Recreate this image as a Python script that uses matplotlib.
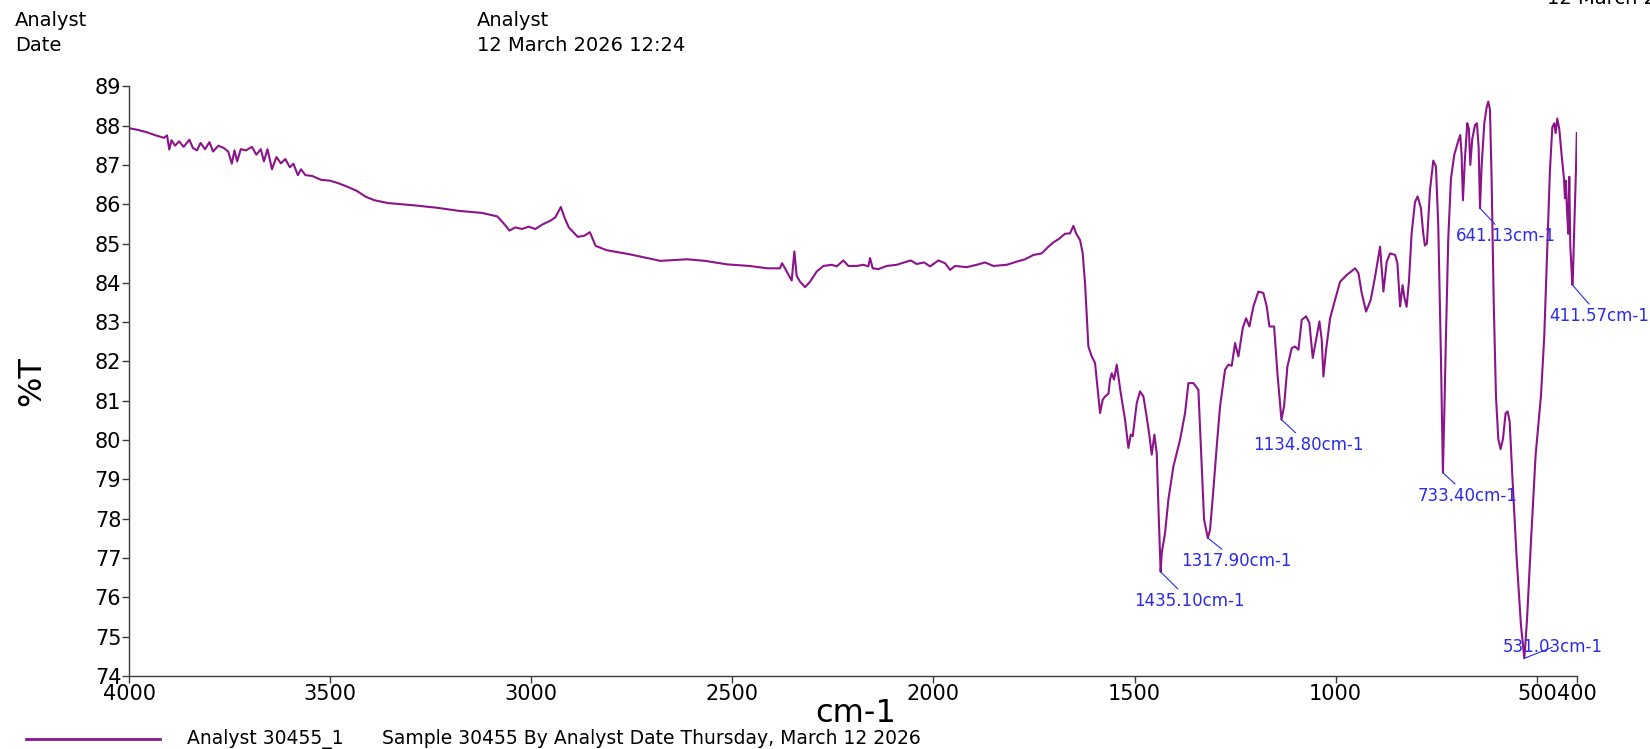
import numpy as np
import matplotlib.pyplot as plt
from matplotlib.lines import Line2D

plt.rcParams['font.family'] = ['DejaVu Sans']

# FTIR spectrum, wavenumber (cm-1) vs transmittance (%T)
wavenumber = [
    3997.5, 3977.5, 3955.3, 3933.1, 3913.1, 3905.4, 3899.8, 3894.3, 3885.4, 3875.4,
    3864.3, 3849.9, 3841.0, 3831.0, 3822.1, 3811.0, 3799.9, 3791.1, 3777.7, 3764.4,
    3753.3, 3744.4, 3737.8, 3731.1, 3722.2, 3708.9, 3694.5, 3683.4, 3672.3, 3664.5,
    3655.7, 3644.5, 3633.4, 3622.3, 3611.3, 3600.2, 3591.3, 3580.2, 3572.4, 3561.3,
    3544.7, 3522.4, 3500.3, 3478.1, 3455.9, 3433.7, 3411.5, 3389.3, 3356.0, 3289.4,
    3233.9, 3178.4, 3122.9, 3084.0, 3067.4, 3054.1, 3039.7, 3023.0, 3006.4, 2989.7,
    2973.1, 2950.9, 2939.8, 2926.4, 2917.6, 2906.5, 2884.3, 2867.6, 2854.3, 2839.9,
    2812.1, 2756.6, 2678.9, 2612.4, 2568.0, 2512.5, 2457.0, 2412.6,
    2381.4, 2376.4, 2369.0, 2358.0, 2352.4, 2345.8, 2340.0, 2331.7, 2319.2, 2306.8,
    2290.2, 2273.6, 2253.0, 2240.5, 2224.0, 2211.5, 2190.8, 2174.2, 2161.8, 2157.6,
    2151.0, 2136.9, 2116.2, 2091.3, 2056.5, 2041.6, 2023.3, 2008.4, 1987.7, 1971.1,
    1958.7, 1946.3, 1917.3, 1892.4, 1871.7, 1851.0, 1817.8, 1793.0, 1772.2, 1751.5,
    1730.8, 1714.2, 1701.8, 1689.3, 1672.8, 1660.4, 1652.0, 1645.4, 1635.5, 1628.9,
    1623.1, 1614.8, 1606.5, 1598.2, 1592.4, 1585.8, 1579.1, 1573.3, 1565.0, 1560.9,
    1556.8, 1551.0, 1544.3, 1534.4, 1523.6, 1515.3, 1509.5, 1504.5, 1494.6, 1486.3,
    1478.0, 1471.4, 1463.9, 1457.3, 1450.7, 1444.9, 1439.9, 1435.1, 1432.4, 1424.1,
    1415.9, 1403.4, 1386.9, 1374.4, 1366.1, 1353.7, 1341.3, 1333.0, 1327.2, 1317.9,
    1312.3, 1304.0, 1295.7, 1287.4, 1275.0, 1266.7, 1258.4, 1250.1, 1241.8, 1231.0,
    1222.8, 1214.5, 1204.5, 1192.1, 1179.7, 1171.4, 1164.7, 1153.1, 1144.8, 1134.8,
    1128.3, 1120.0, 1109.2, 1100.9, 1092.6, 1084.3, 1073.6, 1065.3, 1057.0, 1048.7,
    1040.4, 1034.6, 1030.4, 1023.8, 1013.9, 1001.5, 989.0, 972.5, 951.7, 943.4,
    935.2, 924.4, 912.8, 902.0, 889.6, 881.3, 873.0, 864.7, 852.3, 846.5,
    839.8, 833.6, 829.4, 823.6, 817.8, 811.2, 802.9, 796.3, 788.0, 782.2,
    778.1, 773.1, 765.6, 757.3, 750.7, 744.9, 738.3, 734.9, 733.4, 730.0,
    725.8, 720.0, 713.4, 705.1, 695.2, 690.2, 686.9, 683.6, 678.6, 672.8,
    668.7, 665.3, 660.4, 653.7, 648.8, 644.6, 641.13, 637.2, 630.5, 624.7,
    620.6, 616.4, 612.3, 607.3, 601.5, 595.7, 589.9, 584.1, 577.5, 572.5,
    567.5, 560.9, 550.1, 539.4, 531.03, 524.4, 514.5, 502.9, 489.6, 481.4,
    473.1, 467.3, 461.4, 456.5, 453.2, 449.0, 444.0, 438.3, 432.4, 429.9,
    427.5, 425.0, 421.7, 419.2, 416.7, 411.57, 410.1, 406.7, 402.6, 400.5,
]
transmittance = [
    87.93, 87.89, 87.83, 87.75, 87.69, 87.75, 87.39, 87.63, 87.49, 87.60,
    87.46, 87.64, 87.43, 87.37, 87.56, 87.40, 87.58, 87.34, 87.49, 87.43,
    87.34, 87.03, 87.37, 87.09, 87.40, 87.37, 87.46, 87.26, 87.40, 87.09,
    87.40, 86.89, 87.20, 87.04, 87.15, 86.94, 87.03, 86.74, 86.89, 86.74,
    86.72, 86.62, 86.60, 86.53, 86.44, 86.34, 86.19, 86.10, 86.03, 85.97,
    85.91, 85.83, 85.78, 85.69, 85.50, 85.33, 85.41, 85.37, 85.43, 85.37,
    85.48, 85.59, 85.67, 85.93, 85.67, 85.41, 85.17, 85.20, 85.29, 84.94,
    84.83, 84.73, 84.56, 84.60, 84.56, 84.47, 84.43, 84.37,
    84.37, 84.50, 84.37, 84.16, 84.06, 84.80, 84.18, 84.03, 83.89, 84.03,
    84.29, 84.43, 84.46, 84.42, 84.57, 84.43, 84.43, 84.46, 84.42, 84.63,
    84.37, 84.35, 84.43, 84.46, 84.57, 84.48, 84.52, 84.42, 84.57, 84.50,
    84.33, 84.43, 84.40, 84.46, 84.52, 84.43, 84.46, 84.54, 84.60, 84.71,
    84.75, 84.92, 85.03, 85.11, 85.25, 85.26, 85.45, 85.26, 85.09, 84.75,
    83.99, 82.38, 82.13, 81.96, 81.37, 80.69, 81.03, 81.11, 81.18, 81.54,
    81.70, 81.54, 81.92, 81.20, 80.52, 79.80, 80.14, 80.10, 80.94, 81.24,
    81.11, 80.69, 80.18, 79.63, 80.14, 79.67, 78.06, 76.65, 77.13, 77.64,
    78.49, 79.33, 80.01, 80.69, 81.45, 81.45, 81.28, 79.33, 77.98, 77.51,
    77.72, 78.74, 79.84, 80.86, 81.79, 81.92, 81.89, 82.47, 82.13, 82.85,
    83.10, 82.89, 83.40, 83.78, 83.74, 83.40, 82.89, 82.89, 81.70, 80.52,
    80.86, 81.87, 82.34, 82.38, 82.30, 83.06, 83.15, 82.98, 82.09, 82.55,
    83.02, 82.55, 81.62, 82.30, 83.10, 83.57, 84.03, 84.20, 84.37, 84.25,
    83.74, 83.27, 83.57, 84.16, 84.92, 83.78, 84.54, 84.75, 84.71, 84.50,
    83.40, 83.94, 83.64, 83.39, 84.04, 85.25, 86.05, 86.20, 85.90, 85.25,
    84.95, 85.00, 86.35, 87.11, 86.96, 85.45, 82.13, 80.13, 79.17, 80.63,
    82.64, 85.15, 86.65, 87.26, 87.61, 87.76, 87.26, 86.10, 87.16, 88.06,
    87.91, 87.00, 87.66, 88.01, 88.06, 87.46, 85.90, 86.96, 88.06, 88.46,
    88.61, 88.41, 86.65, 83.64, 81.13, 80.03, 79.77, 80.03, 80.68, 80.73,
    80.48, 79.12, 77.01, 75.30, 74.45, 75.41, 77.41, 79.62, 81.13, 82.64,
    85.15, 86.86, 87.96, 88.06, 87.81, 88.18, 87.91, 87.26, 86.65, 86.15,
    86.60, 85.85, 85.25, 86.70, 84.95, 83.95, 84.19, 85.45, 86.86, 87.81,
]

# labelled peaks and where their labels sit (offset in pixels from the peak)
peak_wn = [1435.10, 1317.90, 1134.80, 733.40, 641.13, 531.03, 411.57]
label_offsets = [(29, -29), (29, -23), (27, -25), (25, -23), (26, -28), (28, 11), (27, -31)]

x_ticks = [4000, 3500, 3000, 2500, 2000, 1500, 1000, 500, 400]
y_ticks = list(range(74, 90))

line_color = '#8b148b'
label_color = '#2b2be8'
axis_color = '#3c3c3c'

W, H = 1650, 749
fig = plt.figure(figsize=(W / 100, H / 100), dpi=100)
ax = fig.add_axes([129 / W, 1 - 676 / H, (1577 - 129) / W, (676 - 86.3) / H])

ax.plot(wavenumber, transmittance, color=line_color, lw=1.5)
ax.set_xlim(4000, 400)
ax.set_ylim(74, 89)
ax.set_xticks(x_ticks)
ax.set_yticks(y_ticks)
ax.tick_params(labelsize=15, length=5, width=1, pad=0.5, color=axis_color, direction='out')

for side in ['top', 'right']:
    ax.spines[side].set_visible(False)
for side in ['left', 'bottom']:
    ax.spines[side].set_color(axis_color)
    ax.spines[side].set_linewidth(1)

# peak picks
wn_sorted = np.array(wavenumber[::-1])
t_sorted = np.array(transmittance[::-1])
for wn, off in zip(peak_wn, label_offsets):
    t = np.interp(wn, wn_sorted, t_sorted)
    ax.annotate(f"{wn:.2f}cm-1", xy=(wn, t), xytext=off, textcoords='offset pixels',
                ha='center', va='center', fontsize=12, color=label_color,
                annotation_clip=False,
                arrowprops=dict(arrowstyle='-', color=label_color, lw=0.8,
                                shrinkA=0, shrinkB=0))

# axis titles
fig.text(32 / W, 1 - 381 / H, '%T', rotation=90, ha='center', va='center', fontsize=23)
fig.text(856 / W, 1 - 714 / H, 'cm-1', ha='center', va='center', fontsize=23)

# header block
fig.text(15 / W, 1 - 26 / H, 'Analyst', fontsize=14, va='baseline')
fig.text(15 / W, 1 - 51 / H, 'Date', fontsize=14, va='baseline')
fig.text(477 / W, 1 - 26 / H, 'Analyst', fontsize=14, va='baseline')
fig.text(477 / W, 1 - 51 / H, '12 March 2026 12:24', fontsize=14, va='baseline')
fig.text(1547 / W, 1 - 4 / H, '12 March 2026 12:24', fontsize=14, va='baseline')

# legend row
fig.add_artist(Line2D([26 / W, 160 / W], [1 - 739 / H, 1 - 739 / H], color=line_color, lw=2))
fig.text(187 / W, 1 - 739 / H, 'Analyst 30455_1', fontsize=13.5, va='center')
fig.text(382 / W, 1 - 739 / H, 'Sample 30455 By Analyst Date Thursday, March 12 2026',
         fontsize=13.5, va='center')

fig.savefig('out.png', dpi=100)
